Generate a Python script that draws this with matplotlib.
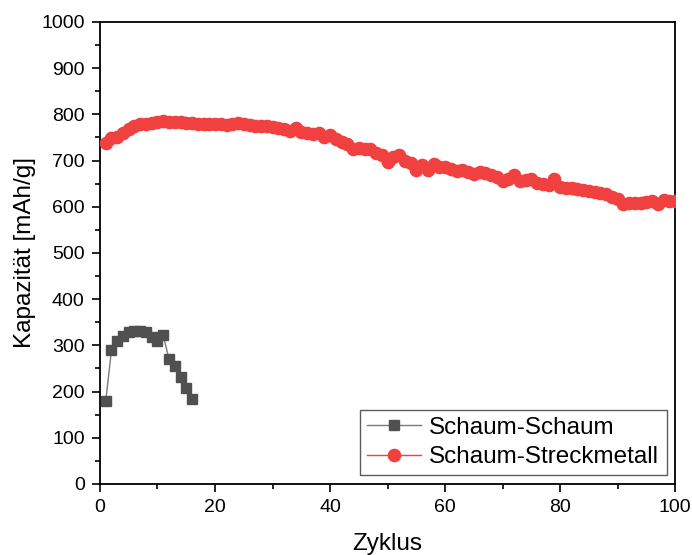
import matplotlib
matplotlib.use("Agg")
import matplotlib.pyplot as plt
from matplotlib.ticker import MultipleLocator

plt.rcParams['font.family'] = ['Liberation Sans', 'DejaVu Sans']

cycles_foam = list(range(1, 17))
cap_foam = [180, 290, 310, 320, 328, 330, 330, 328, 318, 310, 322, 270, 255, 232, 207, 183]

cycles_metal = list(range(1, 101))
cap_metal = [737, 748, 752, 760, 768, 774, 778, 780, 782, 784,
             785, 784, 784, 783, 782, 781, 780, 779, 779, 778,
             778, 777, 780, 781, 778, 776, 775, 774, 774, 772,
             770, 769, 765, 770, 762, 760, 758, 760, 752, 755,
             746, 740, 735, 725, 728, 726, 726, 717, 713, 697,
             708, 712, 700, 695, 680, 690, 680, 692, 685, 685,
             682, 678, 680, 675, 670, 675, 672, 668, 665, 655,
             660, 668, 655, 658, 660, 652, 650, 648, 660, 642,
             640, 640, 638, 636, 635, 632, 630, 627, 620, 616,
             606, 608, 608, 609, 610, 612, 605, 615, 613, 612]

label_foam = "Schaum-Schaum"
label_metal = "Schaum-Streckmetall"

fig = plt.figure(figsize=(6.92, 5.55), dpi=100)
ax = fig.add_axes([0.1445, 0.128, 0.831, 0.8325])

ax.plot(cycles_foam, cap_foam, color='#7a7a7a', lw=1.0, marker='s', ms=7.5,
        mfc='#505050', mec='#505050', label=label_foam, zorder=3)
ax.plot(cycles_metal, cap_metal, color='#f04040', lw=1.0, marker='o', ms=8.8,
        mfc='#f04040', mec='#f04040', label=label_metal, zorder=3)

ax.set_xlim(0, 100)
ax.set_ylim(0, 1000)
ax.xaxis.set_major_locator(MultipleLocator(20))
ax.xaxis.set_minor_locator(MultipleLocator(10))
ax.yaxis.set_major_locator(MultipleLocator(100))
ax.yaxis.set_minor_locator(MultipleLocator(50))
ax.tick_params(axis='both', which='major', direction='out', length=6, width=1.2,
               labelsize=14, pad=5)
ax.tick_params(axis='both', which='minor', direction='out', length=3.5, width=1.2)
for s in ax.spines.values():
    s.set_linewidth(1.3)

ax.set_xlabel("Zyklus", fontsize=17.5, labelpad=12)
ax.set_ylabel("Kapazität [mAh/g]", fontsize=17.5, labelpad=4)

leg = ax.legend(loc='lower right', fontsize=17.5, frameon=True, fancybox=False,
                edgecolor='#333333', handlelength=2.2, borderpad=0.3,
                labelspacing=0.3, handletextpad=0.35, borderaxespad=0.35)
leg.get_frame().set_linewidth(1.0)

fig.savefig("out.png", dpi=100)
